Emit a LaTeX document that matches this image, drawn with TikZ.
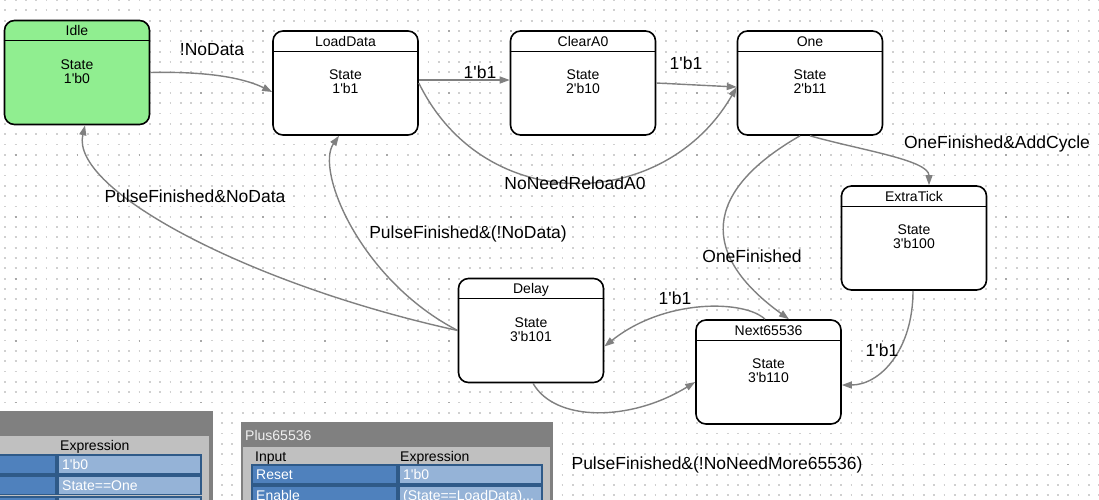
\documentclass[tikz,border=0pt]{standalone}
\usepackage{fontspec}
\setmainfont{Liberation Sans}
\usetikzlibrary{arrows.meta}
\definecolor{edgegray}{HTML}{808080}
\definecolor{dotlight}{HTML}{D0D0D0}
\definecolor{dotdark}{HTML}{A8A8A8}
\definecolor{idlegreen}{HTML}{90EE90}
\definecolor{tabdark}{HTML}{808080}
\definecolor{tablight}{HTML}{C0C0C0}
\definecolor{celldark}{HTML}{4F81BD}
\definecolor{celllight}{HTML}{95B3D7}
\definecolor{cellborder}{HTML}{2F5A88}
\newcommand\q{\textquotesingle}
\tikzset{
  statebox/.style={draw=black, line width=1.6pt, rounded corners=10pt, fill=white,
    minimum width=145pt, minimum height=104pt, inner sep=0pt},
  stitle/.style={font=\fontsize{14}{14}\selectfont, inner sep=0pt, text height=10pt, text depth=0pt},
  sbody/.style={font=\fontsize{14}{14}\selectfont, align=center, inner sep=0pt},
  elabel/.style={font=\fontsize{17.5}{18}\selectfont, inner sep=0pt, text height=12.5pt, text depth=0pt},
  trans/.style={draw=edgegray, line width=1.4pt, -{Triangle[length=10pt,width=7pt]}},
  tabtext/.style={font=\fontsize{14}{14}\selectfont, inner sep=0pt, anchor=west, text height=10pt, text depth=0pt},
  dcell/.style={draw=cellborder, line width=1.3pt, fill=celldark},
  lcell/.style={draw=cellborder, line width=1.3pt, fill=celllight},
}
\newcommand\mkstate[6]{%
  \node[statebox, fill=#6] (#1) at (#2,#3) {};
  \draw[line width=1.4pt] ([yshift=-21pt]#1.north west) -- ([yshift=-21pt]#1.north east);
  \node[stitle] (#1-t) at ([yshift=-11pt]#1.north) {#4};
  \node[sbody] (#1-b) at ([yshift=-51.5pt]#1.north) {State\\#5};
}
\begin{document}
\begin{tikzpicture}[x=1pt,y=-1pt]
\useasboundingbox (0,0) rectangle (1099,499);
\fill[white] (0,0) rectangle (1099,499);
% dotted grid
\foreach \j in {0,...,48} {
  \draw[dotlight, line width=1.8pt, dash pattern=on 1.8pt off 8.52pt] (4.4,\j*10.32) -- (1099,\j*10.32);
}
\foreach \j in {0,...,7} {
  \draw[dotdark, line width=1.8pt, dash pattern=on 1.8pt off 60.12pt] (14.7,31+\j*61.92) -- (1099,31+\j*61.92);
}
% states
\mkstate{idle}{77}{72.5}{Idle}{1\q b0}{idlegreen}
\mkstate{load}{345.5}{83}{LoadData}{1\q b1}{white}
\mkstate{clear}{583}{83}{ClearA0}{2\q b10}{white}
\mkstate{one}{810}{83}{One}{2\q b11}{white}
\mkstate{extra}{914}{238}{ExtraTick}{3\q b100}{white}
\mkstate{delay}{531}{330.5}{Delay}{3\q b101}{white}
\mkstate{next}{768.5}{372}{Next65536}{3\q b110}{white}
% transitions
\draw[trans] (idle.east) .. controls (215,71) and (248,80) .. ([yshift=-9pt]load.west);
\draw[trans] ([yshift=3pt]load.east) -- ([yshift=3pt]clear.west);
\draw[trans] (clear.east) -- ([yshift=-4pt]one.west);
\draw[trans] (load.east) .. controls (485,218) and (665,212) .. ([yshift=-4pt]one.west);
\draw[trans] (one.south) .. controls (860,150) and (929,160) .. ([xshift=15pt]extra.north);
\draw[trans] ([xshift=-10pt]one.south) .. controls (702,192) and (700,255) .. ([xshift=20.5pt]next.north);
\draw[trans] ([xshift=-1pt]extra.south) .. controls (913,350) and (880,385) .. ([yshift=-13pt]next.east);
\draw[trans] ([xshift=-3.5pt]next.north) .. controls (745,300) and (665,298) .. ([yshift=-16pt]delay.east);
\draw[trans] ([xshift=2pt]delay.south) .. controls (555,422) and (630,422) .. ([yshift=-10pt]next.west);
\draw[trans] (delay.west) .. controls (250,285) and (70,190) .. ([xshift=8pt]idle.south);
\draw[trans] (delay.west) .. controls (360,280) and (315,170) .. ([xshift=-6.5pt]load.south);
% labels
\node[elabel] (l1) at (212,49) {!NoData};
\node[elabel] (l2) at (480,72) {1\q b1};
\node[elabel] (l3) at (686,63) {1\q b1};
\node[elabel] (l4) at (575,183) {NoNeedReloadA0};
\node[elabel] (l5) at (997,142) {OneFinished\&AddCycle};
\node[elabel] (l6) at (195,196) {PulseFinished\&NoData};
\node[elabel] (l7) at (468,232) {PulseFinished\&(!NoData)};
\node[elabel] (l8) at (752,256) {OneFinished};
\node[elabel] (l9) at (675,298) {1\q b1};
\node[elabel] (l10) at (882,350) {1\q b1};
\node[elabel] (l11) at (717,463) {PulseFinished\&(!NoNeedMore65536)};
% left table
\fill[tabdark] (-2,411) rectangle (213,502);
\fill[tablight] (-2,436) rectangle (209,502);
\node[tabtext] (lt-h) at (60,445) {Expression};
\draw[dcell] (-2,455) rectangle (56,474);
\draw[lcell] (58,455) rectangle (201,474);
\node[tabtext, white] (lt-r1) at (62,464.5) {1\q b0};
\draw[dcell] (-2,476) rectangle (56,494.5);
\draw[lcell] (58,476) rectangle (201,494.5);
\node[tabtext, white] (lt-r2) at (62,485) {State==One};
\draw[dcell] (-2,497) rectangle (56,515);
\draw[lcell] (58,497) rectangle (201,515);
% right table
\fill[tabdark] (241,422) rectangle (553,502);
\fill[tablight] (243,447) rectangle (550,502);
\node[tabtext, text=white!94!black] (rt-t) at (245,435) {Plus65536};
\node[tabtext] (rt-h1) at (255,456) {Input};
\node[tabtext] (rt-h2) at (400,456) {Expression};
\draw[dcell] (252,465) rectangle (397,484);
\draw[lcell] (399,465) rectangle (542,484);
\node[tabtext, white] (rt-r1a) at (256,474.5) {Reset};
\node[tabtext, white] (rt-r1b) at (403,474.5) {1\q b0};
\draw[dcell] (252,486) rectangle (397,505);
\draw[lcell] (399,486) rectangle (542,505);
\node[tabtext, white] (rt-r2a) at (256,495.5) {Enable};
\node[tabtext, white] (rt-r2b) at (403,495.5) {(State==LoadData)...};
\end{tikzpicture}
\end{document}
